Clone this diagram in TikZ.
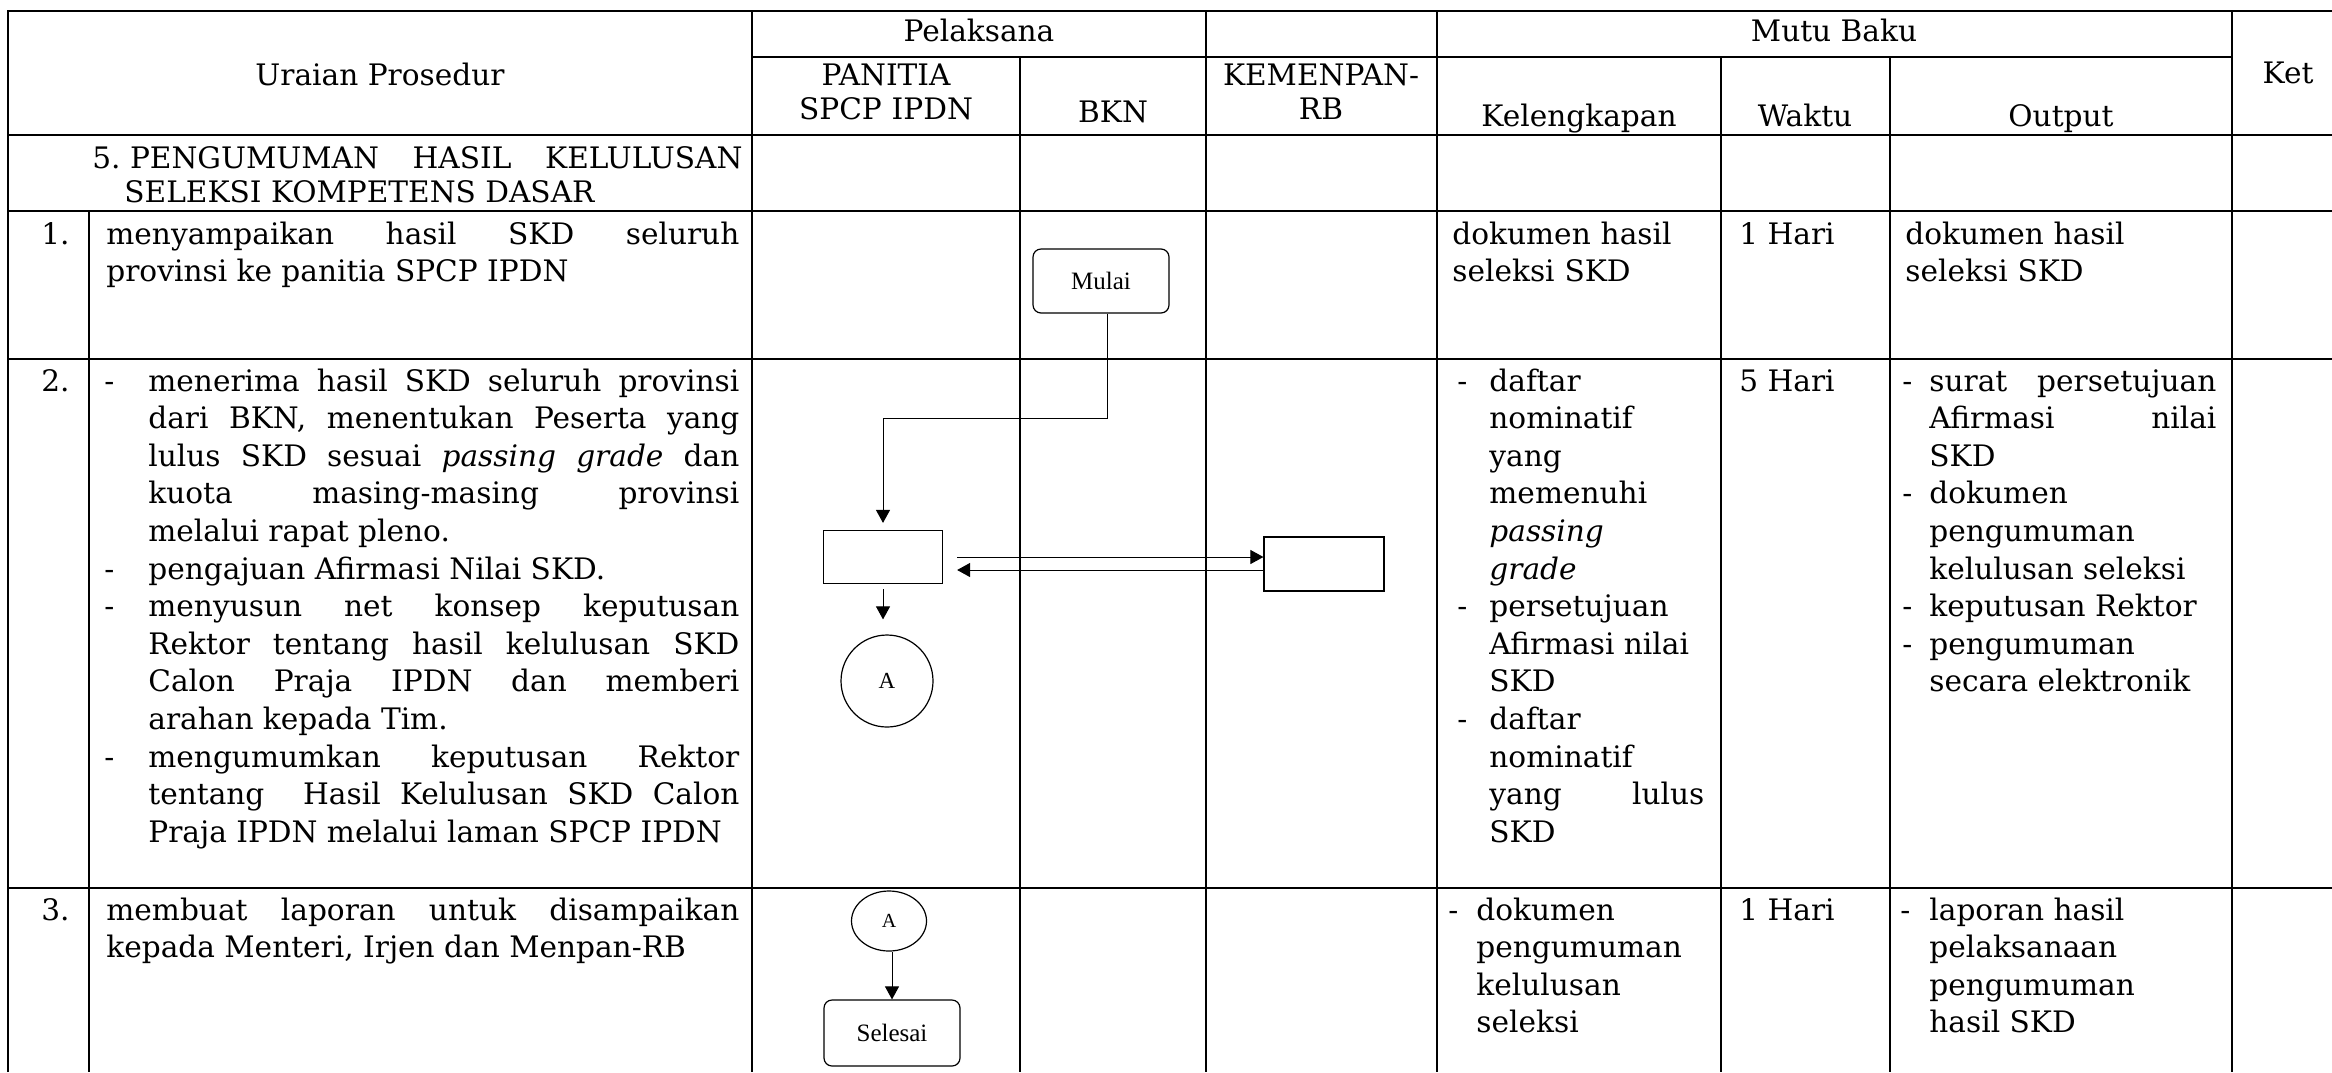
\documentclass[tikz,border=0pt]{standalone}
\usepackage{fontspec}
\setmainfont{DejaVu Serif}
\newfontfamily\bagan{Liberation Serif}
\usetikzlibrary{arrows.meta,shapes.geometric,positioning}

\sloppy
\hyphenpenalty=10000
\exhyphenpenalty=10000
\hbadness=10000

% dash item with hanging indent
\newcommand{\butir}[2]{\noindent\hangindent=#1\hangafter=1\makebox[#1][l]{-}\ignorespaces#2\par}

\tikzset{
  garis/.style={line width=0.85pt},
  isi/.style={anchor=base west, inner sep=0pt, font=\fontsize{14.8pt}{18.8pt}\selectfont},
  judul/.style={anchor=base, inner sep=0pt, font=\fontsize{14.8pt}{18.5pt}\selectfont},
  terminal/.style={draw, line width=0.6pt, rounded corners=4pt, minimum width=68pt, minimum height=32pt, font=\bagan\fontsize{12.5pt}{14pt}\selectfont},
  proses/.style={draw, line width=0.6pt, rectangle, minimum width=59.5pt, minimum height=26.5pt, inner sep=0pt},
  konektor/.style={draw, line width=0.6pt, circle, inner sep=0pt, font=\bagan\fontsize{11.5pt}{13pt}\selectfont},
  panah/.style={->, >={Triangle[length=6.5pt,width=7pt]}, line width=0.5pt}
}

\begin{document}
\begin{tikzpicture}[x=0.5pt,y=-0.5pt]
\useasboundingbox (0,0) rectangle (2332,1072);

% table rules
\draw[garis] (8,1072) -- (8,11) -- (2332,11);
\draw[garis] (752,57) -- (2232,57);
\foreach \y in {135,211,359,888}
  \draw[garis] (8,\y) -- (2332,\y);
\foreach \x in {752,1206,1437,2232}
  \draw[garis] (\x,11) -- (\x,1072);
\foreach \x in {1020,1721,1890}
  \draw[garis] (\x,57) -- (\x,1072);
\draw[garis] (89,211) -- (89,1072);

% header
\node[judul] (hUraian) at (380,85) {Uraian Prosedur};
\node[judul] (hPelaksana) at (979,41) {Pelaksana};
\node[judul] (hMutu) at (1834,41) {Mutu Baku};
\node[judul] (hKet) at (2288,83) {Ket};
\node[judul, text width=130pt, align=center] (hPanitia) at (886,85) {PANITIA\\[-1.5pt]SPCP IPDN};
\node[judul] (hBKN) at (1113,122) {BKN};
\node[judul, text width=112pt, align=center] (hKemenpan) at (1321,85) {KEMENPAN-\\[-1.5pt]RB};
\node[judul] (hLengkap) at (1579,126) {Kelengkapan};
\node[judul] (hWaktu) at (1805,126) {Waktu};
\node[judul] (hOutput) at (2061,126) {Output};

% section title
\node[isi, font=\fontsize{14.8pt}{17pt}\selectfont, text width=325pt, align=justify] (bagian) at (92,168)
  {\noindent\hangindent=16pt\hangafter=1 5.\hspace{4.7pt}PENGUMUMAN HASIL KELULUSAN\linebreak SELEKSI KOMPETENS DASAR\par};

% row 1
\node[isi] (no1) at (41,244) {1.};
\node[isi, text width=316.5pt, align=justify] (uraian1) at (106,244)
  {menyampaikan hasil SKD seluruh\linebreak provinsi ke panitia SPCP IPDN};
\node[isi, text width=130pt, align=left] (lengkap1) at (1452,244) {dokumen hasil\\ seleksi SKD};
\node[isi] (waktu1) at (1739,244) {1 Hari};
\node[isi, text width=150pt, align=left] (output1) at (1905,244) {dokumen hasil\\ seleksi SKD};

% row 2
\node[isi] (no2) at (41,391) {2.};
\node[isi, text width=317.5pt, align=justify] (uraian2) at (104,391) {%
  \butir{22pt}{menerima hasil SKD seluruh provinsi\linebreak dari BKN, menentukan Peserta yang\linebreak lulus SKD sesuai \textit{passing grade} dan\linebreak kuota masing-masing provinsi\linebreak melalui rapat pleno.}%
  \butir{22pt}{pengajuan Afirmasi Nilai SKD.}%
  \butir{22pt}{menyusun net konsep keputusan\linebreak Rektor tentang hasil kelulusan SKD\linebreak Calon Praja IPDN dan memberi\linebreak arahan kepada Tim.}%
  \butir{22pt}{mengumumkan keputusan Rektor\linebreak tentang~ Hasil Kelulusan SKD Calon\linebreak Praja IPDN melalui laman SPCP IPDN}};
\node[isi, text width=123.5pt, align=justify] (lengkap2) at (1457,391) {%
  \butir{16pt}{daftar\\ nominatif\\ yang\\ memenuhi\\ \textit{passing}\\ \textit{grade}}%
  \butir{16pt}{persetujuan\\ Afirmasi nilai\\ SKD}%
  \butir{16pt}{daftar\\ nominatif\\ yang\hfill lulus\\ SKD}};
\node[isi] (waktu2) at (1739,391) {5 Hari};
\node[isi, text width=157pt, align=justify] (output2) at (1902,391) {%
  \butir{13.5pt}{surat persetujuan\linebreak Afirmasi nilai\linebreak SKD}%
  \butir{13.5pt}{dokumen\\ pengumuman\\ kelulusan seleksi}%
  \butir{13.5pt}{keputusan Rektor}%
  \butir{13.5pt}{pengumuman\\ secara elektronik}};

% row 3
\node[isi] (no3) at (41,920) {3.};
\node[isi, text width=316.5pt, align=justify] (uraian3) at (106,920)
  {membuat laporan untuk disampaikan\linebreak kepada Menteri, Irjen dan Menpan-RB};
\node[isi, text width=128pt, align=justify] (lengkap3) at (1448,920) {%
  \butir{14pt}{dokumen\\ pengumuman\\ kelulusan\\ seleksi}};
\node[isi] (waktu3) at (1739,920) {1 Hari};
\node[isi, text width=157pt, align=justify] (output3) at (1900,920) {%
  \butir{14.5pt}{laporan hasil\\ pelaksanaan\\ pengumuman\\ hasil SKD}};

% flow
\node[terminal] (mulai) at (1101,281) {Mulai};
\node[proses] (terima) at (883,557) {};
\node[proses, minimum width=60pt, minimum height=27pt] (setuju) at (1324,564) {};
\node[konektor, minimum size=46pt] (konA) at (887,681) {A};
\node[konektor, ellipse, minimum width=37.5pt, minimum height=30pt, font=\bagan\fontsize{10pt}{12pt}\selectfont] (konB) at (889,921) {A};
\node[terminal, minimum height=33pt] (selesai) at (892,1033) {Selesai};

\coordinate (belok) at (1107,418);
\draw[panah, shorten >=3.5pt] (mulai.south -| belok) -- (belok) -| (terima.north);
\draw[panah, shorten <=7pt] (terima.east) -- (terima.east -| setuju.west);
\coordinate (balik) at ([yshift=-3pt]setuju.west);
\draw[panah, shorten >=7pt] (balik) -- (balik -| terima.east);
\draw[panah, shorten <=2.5pt, shorten >=7.5pt] (terima.south) -- (terima.south |- konA.north);
\draw[panah] (konB.south -| selesai.north) -- (selesai.north);
\end{tikzpicture}
\end{document}
